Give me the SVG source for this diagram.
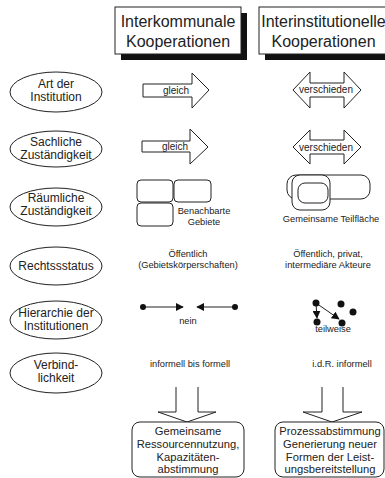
<svg xmlns="http://www.w3.org/2000/svg" width="385" height="478" viewBox="0 0 385 478">
<style>
text{font-family:"Liberation Sans",Arial,sans-serif;fill:#222;text-anchor:middle}
.h{font-size:16px}
.e{font-size:12px}
.s{font-size:9.3px}
.a{font-size:10px}
.b{font-size:11.2px}
.ln{fill:none;stroke:#222;stroke-width:1}
.w{fill:#fff;stroke:#222;stroke-width:1}
.dot{fill:#111}
</style>
<defs>
<marker id="ah" viewBox="0 0 10 10" refX="9" refY="5" markerWidth="8" markerHeight="8" markerUnits="userSpaceOnUse" orient="auto">
<path d="M0,0 L10,5 L0,10 Z" fill="#111"/>
</marker>
</defs>
<rect width="385" height="478" fill="#fff"/>

<g id="header-inter">
<rect x="121" y="13" width="126" height="47" fill="#111"/>
<rect x="115" y="7" width="126" height="47" class="w"/>
<text class="h" x="178" y="27">Interkommunale</text>
<text class="h" x="178" y="47">Kooperationen</text>
</g>
<g id="header-institutionell">
<rect x="265" y="13" width="135" height="47" fill="#111"/>
<rect x="259" y="7" width="135" height="47" class="w"/>
<text class="h" x="323.5" y="27">Interinstitutionelle</text>
<text class="h" x="323.5" y="47">Kooperationen</text>
</g>

<g id="row-art">
<ellipse cx="56" cy="92" rx="46" ry="20" class="w"/>
<text class="e" x="56" y="88">Art der</text>
<text class="e" x="56" y="101">Institution</text>
</g>
<g id="row-sach">
<ellipse cx="56" cy="149" rx="46" ry="18" class="w"/>
<text class="e" x="56" y="146">Sachliche</text>
<text class="e" x="56" y="159">Zuständigkeit</text>
</g>
<g id="row-raum">
<ellipse cx="56" cy="207" rx="46" ry="19" class="w"/>
<text class="e" x="56" y="202">Räumliche</text>
<text class="e" x="56" y="215">Zuständigkeit</text>
</g>
<g id="row-recht">
<ellipse cx="56" cy="266" rx="46" ry="19" class="w"/>
<text class="e" x="56" y="270">Rechtssstatus</text>
</g>
<g id="row-hier">
<ellipse cx="56" cy="320" rx="46" ry="19" class="w"/>
<text class="e" x="56" y="317">Hierarchie der</text>
<text class="e" x="56" y="330">Institutionen</text>
</g>
<g id="row-verb">
<ellipse cx="56" cy="373" rx="46" ry="20" class="w"/>
<text class="e" x="56" y="369">Verbind-</text>
<text class="e" x="56" y="382">lichkeit</text>
</g>

<g id="art-gleich">
<polygon points="143,84 192,84 192,73 209,90 192,108 192,97 143,97" class="w"/>
<text class="a" x="176" y="94">gleich</text>
</g>
<g id="art-verschieden">
<polygon points="293,90 310,72 310,83 344,83 344,72 361,90 344,108 344,97 310,97 310,108" class="w"/>
<text class="a" x="326" y="93">verschieden</text>
</g>
<g id="sach-gleich">
<polygon points="142,141 190,141 190,129 208,147 190,164 190,152 142,152" class="w"/>
<text class="a" x="175" y="150">gleich</text>
</g>
<g id="sach-verschieden">
<polygon points="293,147 310,130 310,140 344,140 344,130 361,147 344,164 344,154 310,154 310,164" class="w"/>
<text class="a" x="326" y="151">verschieden</text>
</g>

<g id="raum-benachbart">
<rect x="137" y="180" width="36" height="22" rx="4" class="w"/>
<rect x="174" y="180" width="37" height="22" rx="4" class="w"/>
<rect x="137" y="203" width="36" height="23" rx="4" class="w"/>
<text class="s" x="204" y="214">Benachbarte</text>
<text class="s" x="204" y="225">Gebiete</text>
</g>
<g id="raum-gemeinsam">
<rect x="287" y="175" width="83" height="24" rx="9" class="w"/>
<rect x="292" y="175" width="38" height="35" rx="8" class="w"/>
<rect x="298" y="183" width="30" height="20" rx="7" class="w"/>
<text class="s" x="331" y="222">Gemeinsame Teilfläche</text>
</g>

<g id="recht-oeffentlich">
<text class="s" x="188" y="257">Öffentlich</text>
<text class="s" x="188" y="268">(Gebietskörperschaften)</text>
</g>
<g id="recht-gemischt">
<text class="s" x="328" y="257">Öffentlich, privat,</text>
<text class="s" x="328" y="268">intermediäre Akteure</text>
</g>

<g id="connectors">
<line x1="143" y1="307" x2="183" y2="307" class="ln" stroke-width="1.2" marker-end="url(#ah)"/>
<line x1="235" y1="307" x2="197" y2="307" class="ln" stroke-width="1.2" marker-end="url(#ah)"/>
<line x1="316" y1="303" x2="317" y2="318" class="ln" stroke-width="1.2" marker-end="url(#ah)"/>
<line x1="316" y1="303" x2="339" y2="319" class="ln" stroke-width="1.2" marker-end="url(#ah)"/>
<polyline points="176,387 176,412 158,412 187,422 216,412 198,412 198,387" class="ln"/>
<polyline points="322,387 322,412 303,412 332,422 362,412 343,412 343,387" class="ln"/>
</g>

<g id="hier-nein">
<circle cx="143" cy="307" r="3" class="dot"/>
<circle cx="235" cy="307" r="3" class="dot"/>
<text class="s" x="188" y="324">nein</text>
</g>
<g id="hier-teilweise">
<circle cx="316" cy="303" r="3.5" class="dot"/>
<circle cx="341" cy="304" r="3.5" class="dot"/>
<circle cx="353" cy="312" r="3.5" class="dot"/>
<circle cx="317" cy="322" r="3.5" class="dot"/>
<circle cx="342" cy="323" r="3.5" class="dot"/>
<text class="s" x="333" y="332">teilweise</text>
</g>

<g id="verb-texte">
<text class="s" x="190" y="367">informell bis formell</text>
<text class="s" x="342" y="367">i.d.R. informell</text>
</g>

<g id="result-inter">
<rect x="132" y="422" width="112" height="55" rx="8" class="w"/>
<text class="b" x="188" y="435">Gemeinsame</text>
<text class="b" x="188" y="447.8">Ressourcennutzung,</text>
<text class="b" x="188" y="460.6">Kapazitäten-</text>
<text class="b" x="188" y="473.4">abstimmung</text>
</g>
<g id="result-institutionell">
<rect x="275" y="422" width="109" height="55" rx="8" class="w"/>
<text class="b" x="330" y="435">Prozessabstimmung</text>
<text class="b" x="330" y="447.8">Generierung neuer</text>
<text class="b" x="330" y="460.6">Formen der Leist-</text>
<text class="b" x="330" y="473.4">ungsbereitstellung</text>
</g>
</svg>
